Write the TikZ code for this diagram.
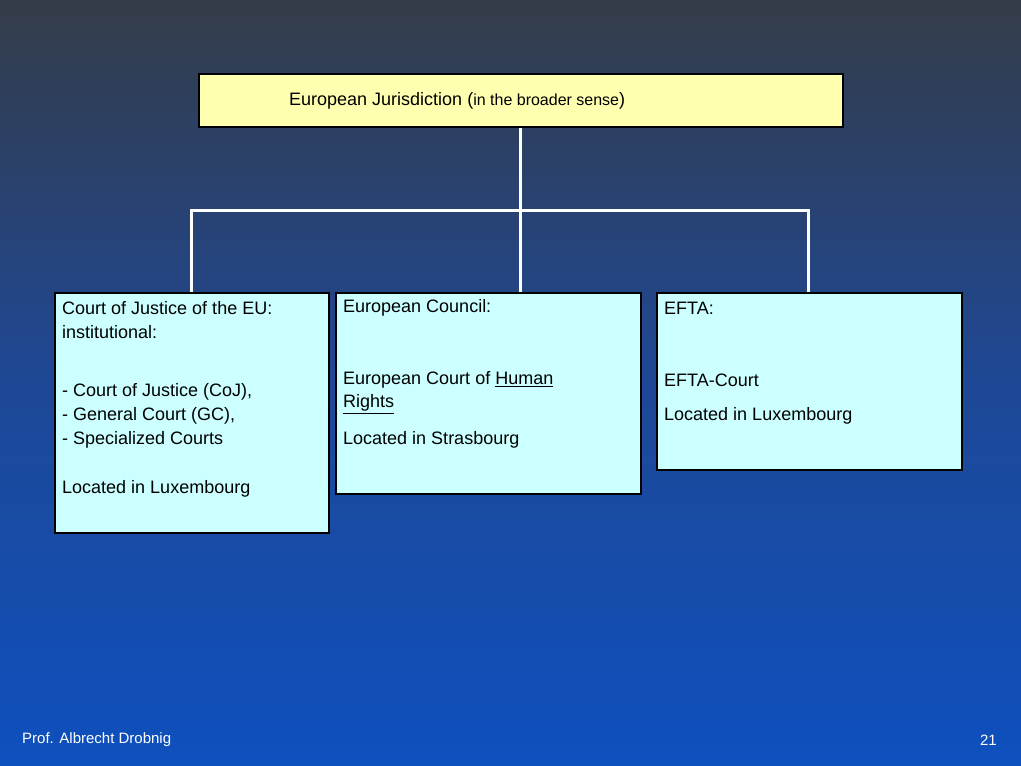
\documentclass[tikz,border=0pt]{standalone}
\usepackage{fontspec}
\setmainfont{Liberation Sans}
\begin{document}
\begin{tikzpicture}[x=1pt,y=-1pt,
  box/.style={draw=black,line width=2pt,fill=boxc,anchor=north west,inner sep=0pt},
  txt/.style={anchor=west,inner sep=0pt,font=\fontsize{18}{22}\selectfont,text=black},
  link/.style={draw=white,line width=3pt}]
\definecolor{boxc}{HTML}{CCFFFF}
\definecolor{topc}{HTML}{FFFFB0}
\shade[top color={rgb,255:red,52;green,60;blue,72},bottom color={rgb,255:red,14;green,80;blue,190},middle color={rgb,255:red,30;green,72;blue,150}] (0,0) rectangle (1021,766);
\useasboundingbox (0,0) rectangle (1021,766);
\node[box,fill=topc,minimum width=644pt,minimum height=53pt] (top) at (198,73) {};
\node[txt] at (289,101) {European Jurisdiction ({\fontsize{16}{20}\selectfont in the broader sense})};
\node[box,minimum width=274pt,minimum height=240pt] (l) at (54,292) {};
\node[box,minimum width=305pt,minimum height=201pt] (m) at (335,292) {};
\node[box,minimum width=305pt,minimum height=177pt] (r) at (656,292) {};
\coordinate (bar) at (520,210);
\coordinate (lt) at (191,292);
\coordinate (rt) at (808,292);
\draw[link] (top.south -| bar) -- (m.north -| bar);
\draw[link] (lt) -- (lt |- bar) -- (rt |- bar) -- (rt);
\node[txt] at (62,308) {Court of Justice of the EU:};
\node[txt] at (62,332) {institutional:};
\node[txt] at (62,392) {- Court of Justice (CoJ),};
\node[txt] at (62,416) {- General Court (GC),};
\node[txt] at (62,440) {- Specialized Courts};
\node[txt] at (62,489) {Located in Luxembourg};
\node[txt] at (343,308) {European Council:};
\node[txt] at (343,380) {European Court of \underline{Human}};
\node[txt] at (343,404) {\underline{Rights}};
\node[txt] at (343,440) {Located in Strasbourg};
\node[txt] at (664,308) {EFTA:};
\node[txt] at (664,380) {EFTA-Court};
\node[txt] at (664,416) {Located in Luxembourg};
\node[txt,text=white,font=\fontsize{15}{18}\selectfont] at (22,740) {Prof. Albrecht Drobnig};
\node[txt,text=white,font=\fontsize{15}{18}\selectfont,anchor=east] at (997,740) {21};
\end{tikzpicture}
\end{document}
